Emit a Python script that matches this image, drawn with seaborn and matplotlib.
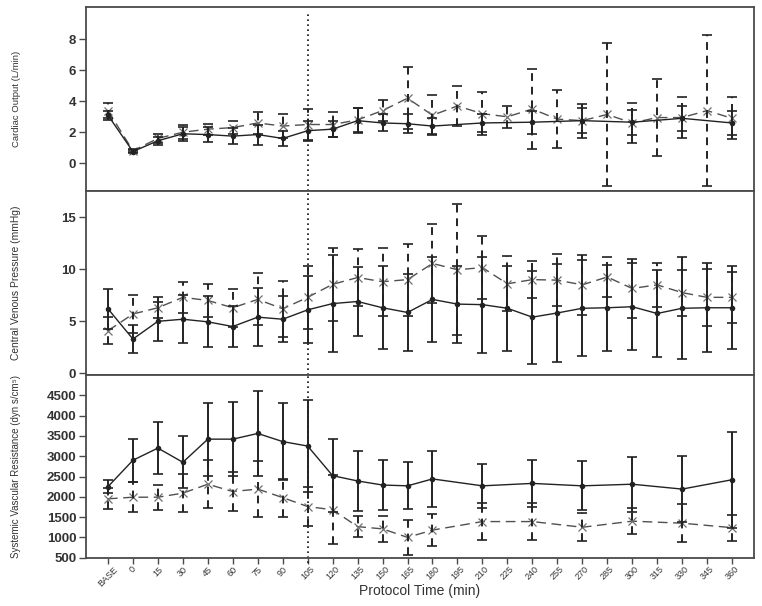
import matplotlib
matplotlib.use("Agg")
import matplotlib.pyplot as plt
import seaborn as sns
import numpy as np
import pandas as pd

# protocol time points (categorical x axis)
times = ["BASE", "0", "15", "30", "45", "60", "75", "90", "105", "120", "135",
         "150", "165", "180", "195", "210", "225", "240", "255", "270", "285",
         "300", "315", "330", "345", "360"]
nan = np.nan

# cardiac output (L/min)
co_solid = [3.1, 0.75, 1.45, 1.9, 1.85, 1.75, 1.85, 1.6, 2.1, 2.2, 2.75, 2.6, 2.55,
            2.4, nan, 2.6, nan, 2.65, nan, 2.75, nan, 2.65, nan, 2.9, nan, 2.6]
co_solid_err = [0.3, 0.1, 0.25, 0.45, 0.5, 0.5, 0.65, 0.5, 0.65, 0.5, 0.8, 0.55, 0.6,
                0.5, nan, 0.6, nan, 0.75, nan, 0.8, nan, 0.8, nan, 0.8, nan, 0.8]
co_dash = [3.4, 0.8, 1.6, 2.0, 2.2, 2.3, 2.6, 2.4, 2.5, 2.5, 2.8, 3.4, 4.2,
           3.1, 3.7, 3.2, 3.0, 3.5, 2.85, 2.75, 3.15, 2.6, 2.95, 2.95, 3.4, 2.9]
co_dash_err = [0.5, 0.1, 0.3, 0.45, 0.35, 0.4, 0.7, 0.8, 1.0, 0.8, 0.8, 0.7, 2.0,
               1.3, 1.3, 1.4, 0.7, 2.6, 1.9, 1.1, 4.6, 1.3, 2.5, 1.35, 4.9, 1.35]

# central venous pressure (mmHg)
cvp_solid = [6.2, 3.3, 5.0, 5.2, 4.95, 4.5, 5.4, 5.2, 6.1, 6.7, 6.9, 6.3, 5.85,
             7.1, 6.65, 6.6, 6.25, 5.4, 5.8, 6.25, 6.3, 6.4, 5.75, 6.25, 6.3, 6.3]
cvp_solid_err = [1.9, 1.3, 1.9, 2.3, 2.45, 2.0, 2.8, 2.2, 3.2, 4.65, 3.3, 4.0, 3.7,
                 4.1, 3.7, 4.6, 4.05, 4.45, 4.7, 4.6, 4.1, 4.15, 4.2, 4.9, 4.25, 4.0]
cvp_dash = [4.1, 5.7, 6.3, 7.3, 7.0, 6.3, 7.1, 6.2, 7.3, 8.55, 9.2, 8.8, 9.0,
            10.55, 9.95, 10.15, 8.6, 9.0, 8.95, 8.5, 9.25, 8.15, 8.5, 7.75, 7.3, 7.3]
cvp_dash_err = [1.3, 1.8, 1.0, 1.5, 1.55, 1.8, 2.5, 2.7, 3.0, 3.5, 2.7, 3.25, 3.45,
                3.8, 6.3, 3.0, 2.65, 1.75, 2.5, 2.9, 1.9, 2.8, 2.1, 2.2, 2.75, 2.45]

# systemic vascular resistance (dyn s/cm^5)
svr_solid = [2250, 2900, 3200, 2850, 3420, 3420, 3560, 3360, 3250, 2520, 2390, 2290, 2270,
             2440, nan, 2270, nan, 2330, nan, 2270, nan, 2310, nan, 2190, nan, 2420]
svr_solid_err = [160, 525, 650, 645, 900, 910, 1050, 950, 1140, 900, 740, 620, 575,
                 690, nan, 540, nan, 580, nan, 600, nan, 680, nan, 820, nan, 1180]
svr_dash = [1950, 1990, 1990, 2090, 2310, 2130, 2190, 1980, 1760, 1680, 1265, 1210, 1000,
            1180, nan, 1390, nan, 1390, nan, 1250, nan, 1400, nan, 1350, nan, 1240]
svr_dash_err = [260, 370, 310, 460, 585, 490, 690, 470, 480, 850, 260, 320, 440,
                390, nan, 450, nan, 450, nan, 350, nan, 320, nan, 470, nan, 320]

panels = [
    ("Cardiac Output (L/min)", co_solid, co_solid_err, co_dash, co_dash_err,
     (-1.8, 10.1), [0, 2, 4, 6, 8], 6.8),
    ("Central Venous Pressure (mmHg)", cvp_solid, cvp_solid_err, cvp_dash, cvp_dash_err,
     (-0.15, 17.5), [0, 5, 10, 15], 7.4),
    ("Systemic Vascular Resistance (dyn s/cm\u2075)", svr_solid, svr_solid_err, svr_dash,
     svr_dash_err, (500, 5000), list(range(500, 5000, 500)), 7.0),
]

sns.set_theme(style="white")
plt.rcParams['font.family'] = ['Liberation Sans', 'DejaVu Sans']

fig = plt.figure(figsize=(7.62, 6.06), dpi=100)
x = np.arange(len(times))
left, width = 86 / 762, 668 / 762
tops = [7, 191, 375]
bots = [191, 375, 557.7]
spine_col = "#4a4a4a"
for i, (label, s, se, d, de, ylim, yt, lsize) in enumerate(panels):
    ax = fig.add_axes([left, 1 - bots[i] / 606, width, (bots[i] - tops[i]) / 606])
    df = pd.DataFrame({"x": x, "solid": s, "solid_err": se, "dash": d, "dash_err": de})
    ds = df.dropna(subset=["solid"])
    dd = df.dropna(subset=["dash"])

    # dashed series (x markers)
    sns.lineplot(data=dd, x="x", y="dash", ax=ax, color="#505050", lw=1.0,
                 dashes=False, linestyle=(0, (7, 4)), marker="x", markersize=6,
                 markeredgewidth=0.9, markeredgecolor="#707070", zorder=2)
    eb = ax.errorbar(dd["x"], dd["dash"], yerr=dd["dash_err"], fmt="none",
                     ecolor="#222222", elinewidth=1.4, capsize=3.5, capthick=1.2, zorder=2)
    eb[2][0].set_linestyle((0, (4, 3)))

    # solid series (filled circles)
    sns.lineplot(data=ds, x="x", y="solid", ax=ax, color="#222222", lw=1.0,
                 marker="o", markersize=4, markeredgewidth=0, zorder=3)
    ax.errorbar(ds["x"], ds["solid"], yerr=ds["solid_err"], fmt="none",
                ecolor="#222222", elinewidth=1.4, capsize=3.5, capthick=1.2, zorder=3)

    ax.axvline(8, color="#111111", lw=1.2, linestyle=(0, (1, 2)),
               ymin=-0.03 if i == 2 else 0.0, ymax=0.97 if i == 0 else 1.0,
               clip_on=False, zorder=1)

    ax.set_xlim(-0.88, 25.88)
    ax.set_ylim(*ylim)
    ax.set_yticks(yt)
    ax.set_xlabel("")
    ax.set_ylabel(label, fontsize=lsize, color="#333333")
    ax.yaxis.set_label_coords(-0.098, 0.5)
    ax.tick_params(axis="y", direction="out", length=5, width=1, color=spine_col,
                   labelsize=9.5, labelcolor="#333333", left=True, pad=2)
    for t in ax.get_yticklabels():
        t.set_fontweight("bold")
    for sp in ax.spines.values():
        sp.set_color(spine_col)
        sp.set_linewidth(1.3)
    if i < 2:
        ax.set_xticks([])
    else:
        ax.set_xticks(x)
        ax.set_xticklabels(times, rotation=45, ha="center", fontsize=6.5, color="#333333")
        ax.tick_params(axis="x", direction="out", length=4, width=1, color=spine_col,
                       bottom=True, pad=1)

fig.text(left + width / 2, 1 - 591 / 606, "Protocol Time (min)", ha="center",
         va="center", fontsize=10, color="#333333")

fig.savefig("out.png", dpi=100)
